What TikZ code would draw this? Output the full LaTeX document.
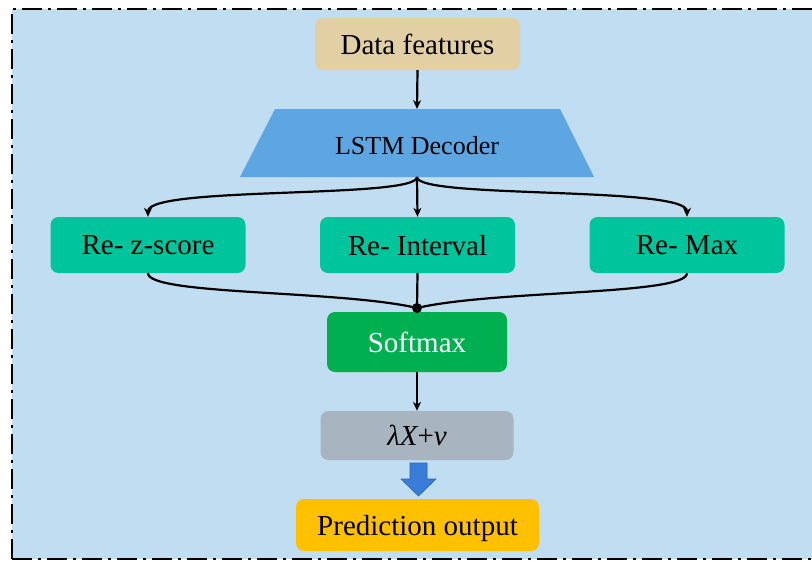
\documentclass[tikz,border=0pt]{standalone}
\usepackage{fontspec}
\setmainfont{Liberation Serif}
\usetikzlibrary{arrows.meta}
\definecolor{bgblue}{HTML}{C0DDF1}
\definecolor{sand}{HTML}{E2CFA4}
\definecolor{lstmblue}{HTML}{5EA6E2}
\definecolor{teal}{HTML}{00C49C}
\definecolor{softgreen}{HTML}{00B050}
\definecolor{greybox}{HTML}{A8B4BF}
\definecolor{gold}{HTML}{FFC000}
\definecolor{blockblue}{HTML}{3A7DD8}
\begin{document}
\begin{tikzpicture}[x=1pt,y=-1pt,
  box/.style={rounded corners=8pt, inner sep=0pt, align=center, text depth=0pt, font=\fontsize{29}{32}\selectfont},
  conn/.style={line width=2.2pt, -{Stealth[length=9pt,width=8pt]}},
  plain/.style={line width=2.2pt},
  frameline/.style={line width=2pt, dash pattern=on 20pt off 6pt on 3pt off 6pt}]
\useasboundingbox (0,0) rectangle (812,562);
\clip (0,0) rectangle (812,562);
\fill[white] (0,0) rectangle (812,562);
\fill[bgblue] (12,9) rectangle (824,559);
\draw[frameline] (12,559) -- (12,9) -- (824,9);
\draw[frameline] (12,559) -- (824,559);

\node[box, fill=sand, minimum width=205pt, minimum height=52pt] (data) at (417.5,44) {Data features};
\fill[lstmblue] (275,109) -- (560,109) -- (594,177) -- (240,177) -- cycle;
\coordinate (lstmtop) at (417,109);
\coordinate (lstmbot) at (417,177);
\node[inner sep=0pt, font=\fontsize{26}{30}\selectfont] (lstm) at (417,146) {LSTM Decoder};
\node[box, fill=teal, minimum width=195pt, minimum height=56pt] (rz) at (148,245) {Re- z-score};
\node[box, fill=teal, minimum width=195pt, minimum height=56pt] (ri) at (417.5,245) {Re- Interval};
\node[box, fill=teal, minimum width=195pt, minimum height=56pt] (rm) at (687,245) {Re- Max};
\node[box, fill=softgreen, text=white, minimum width=180pt, minimum height=60pt] (soft) at (417,342) {Softmax};
\node[box, fill=greybox, minimum width=193pt, minimum height=49pt] (lam) at (417,435.5) {\itshape λX\upshape+\itshape v};
\node[box, fill=gold, minimum width=243pt, minimum height=52pt] (pred) at (417.5,525) {Prediction output};
\coordinate (m) at (417,308);

\draw[conn] (data.south) -- (lstmtop);
\draw[conn] (lstmbot) .. controls +(0,22) and +(0,-31) .. (rz.north);
\draw[conn] (lstmbot) -- (ri.north);
\draw[conn] (lstmbot) .. controls +(0,22) and +(0,-31) .. (rm.north);
\draw[plain] (rz.south) .. controls +(0,22) and +(-77,-18) .. (m);
\draw[plain] (rm.south) .. controls +(0,22) and +(77,-18) .. (m);
\draw[plain] (ri.south) -- (m);
\fill (m) circle (5pt);
\draw[conn] (soft.south) -- (lam.north);
\fill[blockblue, draw=blockblue!80!black, line width=0.6pt]
  (410,463) -- (427,463) -- (427,479) -- (436,479) -- (418.5,496) -- (401,479) -- (410,479) -- cycle;
\end{tikzpicture}
\end{document}
